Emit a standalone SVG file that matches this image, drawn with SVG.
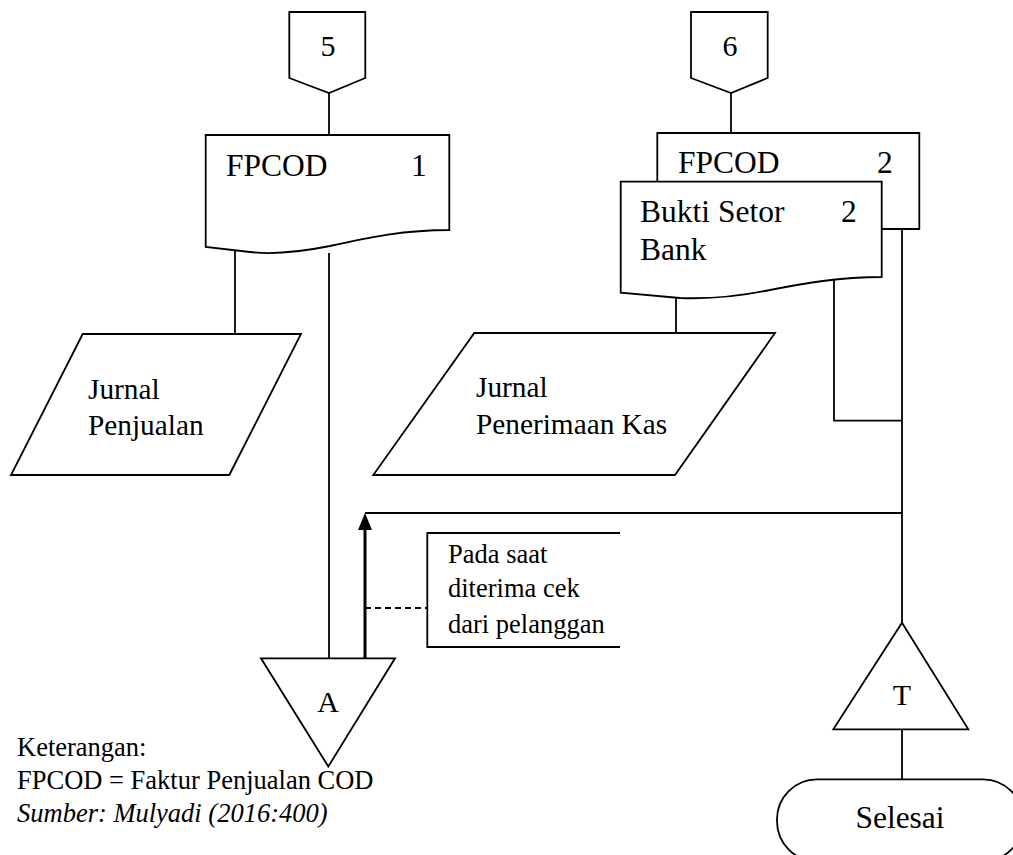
<svg xmlns="http://www.w3.org/2000/svg" width="1013" height="855" viewBox="0 0 1013 855">
  <style>
    .shape { fill: #ffffff; stroke: #000000; stroke-width: 1.8; stroke-linejoin: miter; }
    .line { fill: none; stroke: #000000; stroke-width: 1.8; }
    .t { font-family: "Liberation Serif", "Times New Roman", serif; font-size: 30px; fill: #000000; }
    .doc { font-family: "Liberation Serif", "Times New Roman", serif; font-size: 31.5px; fill: #000000; }
    .jr { font-family: "Liberation Serif", "Times New Roman", serif; font-size: 29.3px; fill: #000000; }
    .note { font-family: "Liberation Serif", "Times New Roman", serif; font-size: 26.5px; fill: #000000; }
    .legend { font-family: "Liberation Serif", "Times New Roman", serif; font-size: 26.5px; fill: #000000; }
  </style>

  <!-- connectors -->
  <g id="connectors">
    <line class="line" x1="329" y1="93" x2="329" y2="135"/>
    <line class="line" x1="731" y1="93" x2="731" y2="133"/>
    <line class="line" x1="235" y1="249" x2="235" y2="334"/>
    <line class="line" x1="329" y1="253" x2="329" y2="658"/>
    <line class="line" x1="676" y1="296" x2="676" y2="333"/>
    <polyline class="line" points="834,280 834,420.7 902,420.7"/>
    <line class="line" x1="902" y1="229" x2="902" y2="623"/>
    <line class="line" x1="365" y1="513" x2="902" y2="513"/>
    <line x1="365" y1="658" x2="365" y2="528" stroke="#000000" stroke-width="3"/>
    <path d="M358,530 L365,513 L372,530 Z" fill="#000000"/>
    <line class="line" x1="365" y1="608" x2="427" y2="608" stroke-dasharray="6,4"/>
    <line class="line" x1="902" y1="729" x2="902" y2="779"/>
  </g>

  <!-- off-page connector 5 -->
  <g id="offpage-5">
    <path class="shape" d="M289.3,12 H365.3 V78 L329,93 L289.3,78 Z"/>
    <text class="t" x="328" y="56" text-anchor="middle">5</text>
  </g>

  <!-- off-page connector 6 -->
  <g id="offpage-6">
    <path class="shape" d="M691,12 H767.7 V78 L731,93 L691,78 Z"/>
    <text class="t" x="730" y="56" text-anchor="middle">6</text>
  </g>

  <!-- document FPCOD 1 -->
  <g id="doc-fpcod-1">
    <path class="shape" d="M205.7,135 H449.3 V230 C 405,230 370,237 330,246 C 300,252 275,255 250,252 L205.7,247 Z"/>
    <text class="doc" x="226" y="176">FPCOD</text>
    <text class="doc" x="411" y="176">1</text>
  </g>

  <!-- document FPCOD 2 (behind) -->
  <g id="doc-fpcod-2">
    <path class="shape" d="M657.3,182 V133 H919.3 V229 H870 L657.3,182 Z" style="stroke:none"/>
    <path class="line" d="M657.3,182 V133 H919.3 V229 H881.7"/>
    <text class="doc" x="678" y="173">FPCOD</text>
    <text class="doc" x="877" y="173">2</text>
  </g>

  <!-- document Bukti Setor Bank 2 (front) -->
  <g id="doc-bukti-setor">
    <path class="shape" d="M620.7,181.7 H881.7 V277 C 840,277 805,283 765,291 C 730,298 705,299 680,298 L620.7,292.7 Z"/>
    <text class="doc" x="640" y="222">Bukti Setor</text>
    <text class="doc" x="841" y="222">2</text>
    <text class="doc" x="640" y="260">Bank</text>
  </g>

  <!-- journal Jurnal Penjualan -->
  <g id="jurnal-penjualan">
    <path class="shape" d="M82.7,334 H301 L229.3,475 H11 Z"/>
    <text class="jr" x="88" y="399">Jurnal</text>
    <text class="jr" x="88" y="435">Penjualan</text>
  </g>

  <!-- journal Jurnal Penerimaan Kas -->
  <g id="jurnal-penerimaan-kas">
    <path class="shape" d="M474.3,333 H775 L675,475 H373.3 Z"/>
    <text class="jr" x="476" y="397">Jurnal</text>
    <text class="jr" x="476" y="434">Penerimaan Kas</text>
  </g>

  <!-- annotation -->
  <g id="annotation">
    <polyline class="line" points="620,533 427.3,533 427.3,647 620,647"/>
    <text class="note" x="448" y="563">Pada saat</text>
    <text class="note" x="448" y="597">diterima cek</text>
    <text class="note" x="448" y="633">dari pelanggan</text>
  </g>

  <!-- connector A -->
  <g id="connector-a">
    <path class="shape" d="M261,658.3 H395 L328.3,766.5 Z"/>
    <text class="t" x="328" y="712" text-anchor="middle">A</text>
  </g>

  <!-- file T -->
  <g id="file-t">
    <path class="shape" d="M902,622.7 L968.3,729.3 H833.3 Z"/>
    <text class="t" x="902" y="705" text-anchor="middle">T</text>
  </g>

  <!-- terminal Selesai -->
  <g id="terminal-selesai">
    <rect class="shape" x="777" y="779.3" width="246" height="82" rx="40" ry="40"/>
    <text class="doc" x="900" y="828" text-anchor="middle">Selesai</text>
  </g>

  <!-- legend -->
  <g id="legend">
    <text class="legend" x="17" y="756">Keterangan:</text>
    <text class="legend" x="17" y="789">FPCOD = Faktur Penjualan COD</text>
    <text class="legend" x="17" y="822" font-style="italic">Sumber: Mulyadi (2016:400)</text>
  </g>
</svg>
